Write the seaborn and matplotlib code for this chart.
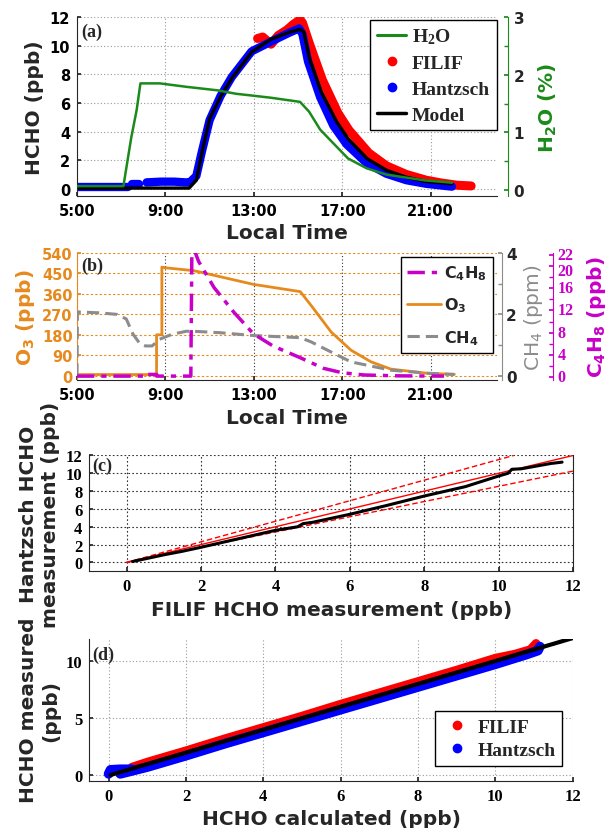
import numpy as np
import pandas as pd
import matplotlib
matplotlib.use("Agg")
import matplotlib.pyplot as plt
import seaborn as sns
from matplotlib.lines import Line2D
from matplotlib.ticker import MultipleLocator
from matplotlib.transforms import blended_transform_factory, ScaledTranslation

sns.set_theme(style="ticks")
plt.rcParams["font.family"] = ["DejaVu Sans"]
plt.rcParams["font.weight"] = "bold"
plt.rcParams["mathtext.default"] = "regular"
plt.rcParams["axes.linewidth"] = 0.8

GREEN = "#1a8a1a"
ORANGE = "#e68a1e"
GREY = "#8c8c8c"
MAGENTA = "#c800c8"
RED = "#ff0000"
BLUE = "#0000ff"
SERIF = "Liberation Serif"

# ---- (a) time series, hours of local time ----
t_h2o = [5.0, 7.1, 7.45, 7.7, 7.87, 8.75, 9.96, 11.35, 12.2, 12.9, 13.8, 15.09,
         15.5, 16.0, 16.4, 17.26, 18.1, 19.0, 20.74, 21.96]
h2o = [0.07, 0.07, 0.9, 1.39, 1.85, 1.85, 1.79, 1.73, 1.67, 1.64, 1.6, 1.53,
       1.36, 1.05, 0.89, 0.55, 0.38, 0.27, 0.17, 0.13]

t_model = [5.0, 10.07, 10.4, 10.65, 11.0, 11.52, 12.04, 12.9, 13.78, 14.65, 15.09,
           15.26, 15.52, 16.04, 16.74, 17.26, 18.13, 19.0, 19.87, 20.74, 21.96]
model = [0.05, 0.05, 0.6, 2.5, 4.9, 6.5, 7.8, 9.55, 10.45, 10.96, 11.14,
         10.95, 9.1, 6.8, 4.7, 3.5, 2.1, 1.3, 0.82, 0.52, 0.35]

t_hz = [5.0, 7.3, 7.5, 7.8, 8.15, 8.8, 9.4, 9.9, 10.1, 10.4, 10.65, 11.0, 11.5, 12.0,
        12.9, 13.8, 14.6, 15.05, 15.2, 15.45, 16.0, 16.6, 17.2, 18.1, 19.0, 19.9,
        20.8, 21.96]
hz = [0.1, 0.1, 0.35, 0.35, 0.45, 0.5, 0.5, 0.45, 0.45, 0.9, 2.6, 4.8, 6.5, 7.8,
      9.6, 10.3, 10.9, 11.2, 10.8, 8.9, 6.4, 4.4, 3.1, 1.8, 1.05, 0.6, 0.35, 0.15]
hz_seg = [0, 0, 1, 1] + [2] * 24

t_fl = [13.17, 13.4, 13.78, 14.1, 14.5, 14.8, 15.09, 15.2, 15.5, 16.1, 16.8, 17.3,
        18.2, 19.0, 19.9, 20.8, 21.5, 22.2, 22.83]
fl = [10.5, 10.6, 10.1, 10.7, 11.1, 11.5, 11.8, 11.6, 10.2, 7.6, 5.3, 4.1,
      2.5, 1.6, 1.0, 0.6, 0.4, 0.25, 0.2]

# ---- (b) O3 / CH4 / C4H8 ----
t_o3 = [5.0, 8.6, 8.6, 8.84, 8.84, 9.0, 10.3, 12.98, 15.1, 15.6, 16.5, 17.4,
        18.3, 19.2, 20.9, 22.07]
o3 = [5, 5, 180, 180, 478, 475, 462, 402, 370, 308, 192, 112, 61, 29, 10, 6]

t_ch4 = [5.0, 5.02, 6.0, 6.8, 7.23, 7.53, 7.84, 8.1, 8.4, 8.74, 9.3, 9.95, 10.5,
         11.5, 12.98, 15.1, 15.6, 16.2, 17.4, 19.2, 20.9, 22.07]
ch4 = [0.0, 2.08, 2.05, 2.0, 1.85, 1.36, 1.05, 0.97, 0.97, 1.19, 1.35, 1.45, 1.44,
       1.4, 1.31, 1.24, 1.1, 0.88, 0.45, 0.18, 0.08, 0.04]

t_c4 = [5.0, 8.0, 8.0, 8.6, 8.6, 10.15, 10.2, 10.5, 11.2, 12.1, 12.98, 13.87,
        15.1, 16.15, 17.0, 18.0, 19.5, 21.6]
c4 = [0.2, 0.2, 0.5, 0.5, 0.2, 0.2, 24, 20.8, 16.1, 11.65, 7.8, 5.6,
      3.5, 1.6, 0.8, 0.4, 0.25, 0.2]
c4_ticks = [0, 4, 8, 12, 16, 20, 22]

time_ticks = [5, 9, 13, 17, 21]
time_labels = ["5:00", "9:00", "13:00", "17:00", "21:00"]

# ---- (c) Hantzsch vs FILIF ----
c_x = [0.16, 0.5, 1.0, 1.5, 2.0, 3.0, 4.0, 4.6, 4.74, 5.0, 6.0, 7.0, 8.0, 9.1,
       10.0, 10.25, 10.35, 10.6, 11.0, 11.4, 11.7]
c_y = [0.1, 0.4, 0.85, 1.25, 1.7, 2.65, 3.6, 4.0, 4.35, 4.5, 5.4, 6.4, 7.45, 8.5,
       9.7, 10.0, 10.45, 10.5, 10.8, 11.1, 11.25]
ref_x = [0, 12]
ref_y = [0, 12]
ref_hi_x = [0, 10.4]
ref_hi_y = [0, 12]
ref_lo_y = [0, 10.25]

# ---- (d) measured vs calculated ----
d_line_x = [0.05, 12]
d_line_y = [0.0, 12.05]
d_fl_x = [0.6, 1.0, 2.0, 3.0, 4.0, 5.0, 6.0, 7.0, 8.0, 9.0, 10.0, 10.5, 10.9, 11.05, 11.12]
d_fl_y = [0.7, 1.15, 2.15, 3.2, 4.2, 5.2, 6.25, 7.25, 8.25, 9.25, 10.3, 10.65, 11.05, 11.6, 11.3]
d_hz_x = [0.0, 0.05, 0.3, 0.6, 0.3, 1.0, 2.0, 3.0, 4.0, 5.0, 6.0, 7.0, 8.0, 9.0, 10.0,
          10.8, 11.1, 11.15]
d_hz_y = [0.1, 0.45, 0.5, 0.5, 0.1, 0.7, 1.7, 2.75, 3.75, 4.75, 5.75, 6.75, 7.75,
          8.75, 9.75, 10.6, 10.95, 11.3]
d_hz_seg = [0, 0, 0, 0] + [1] * 14


def serif_ticks(ax, axis, ticks, labels=None, color="black", size=12):
    labels = labels if labels is not None else [str(t) for t in ticks]
    kw = dict(fontfamily=SERIF, fontweight="bold", fontsize=size, color=color)
    if axis == "x":
        ax.set_xticks(ticks, labels, **kw)
    else:
        ax.set_yticks(ticks, labels, **kw)


def sans_ticks(ax, axis, ticks, labels=None, color="black", size=10.5):
    labels = labels if labels is not None else [str(t) for t in ticks]
    kw = dict(fontsize=size, fontweight="bold", color=color)
    if axis == "x":
        ax.set_xticks(ticks, labels, **kw)
    else:
        ax.set_yticks(ticks, labels, **kw)


def hide(ax, *names):
    for n in names:
        ax.spines[n].set_visible(False)


LAB = dict(fontsize=14.5, fontweight="bold")
fig = plt.figure(figsize=(6.09, 8.29), dpi=100)
ax_a = fig.add_axes([0.1264, 0.7624, 0.6897, 0.2159])
ax_b = fig.add_axes([0.1264, 0.5404, 0.6897, 0.1532])
ax_c = fig.add_axes([0.1466, 0.3096, 0.7947, 0.1398])
ax_d = fig.add_axes([0.1466, 0.0571, 0.7939, 0.1713])

# ======================= (a) =======================
df_hz = pd.DataFrame({"t": t_hz, "v": hz, "seg": hz_seg})
sns.lineplot(x=t_fl, y=fl, ax=ax_a, color=RED, lw=6.5, solid_capstyle="round",
             estimator=None, sort=False)
sns.lineplot(data=df_hz, x="t", y="v", units="seg", estimator=None, sort=False,
             ax=ax_a, color=BLUE, lw=6, solid_capstyle="round")
sns.lineplot(x=t_model, y=model, ax=ax_a, color="black", lw=2.4,
             estimator=None, sort=False)
ax_a.set_xlim(5, 24)
ax_a.set_ylim(-0.5, 12)
sans_ticks(ax_a, "x", time_ticks, time_labels)
sans_ticks(ax_a, "y", list(range(0, 13, 2)))
ax_a.grid(True, color="#999999", ls=(0, (1, 2)), lw=0.8)
ax_a.set_xlabel("Local Time", **LAB)
ax_a.set_ylabel("HCHO (ppb)", **LAB)
hide(ax_a, "top", "right")
ax_a.tick_params(direction="in", length=3, pad=5)
ax_a.text(0.01, 0.97, "(a)", transform=ax_a.transAxes, va="top", ha="left",
          fontfamily=SERIF, fontweight="bold", fontsize=13)

ax_a2 = ax_a.twinx()
sns.lineplot(x=t_h2o, y=h2o, ax=ax_a2, color=GREEN, lw=1.8, estimator=None, sort=False)
ax_a2.set_ylim(-0.1, 3.0)
serif_ticks(ax_a2, "y", [0, 1, 2, 3], color=GREEN)
ax_a2.yaxis.set_minor_locator(MultipleLocator(0.5))
ax_a2.tick_params(axis="y", which="both", direction="in", length=3, color=GREEN, pad=4)
ax_a2.set_ylabel("H$_2$O (%)", color=GREEN, **LAB)
ax_a2.yaxis.set_label_coords(1.095, 0.5)
hide(ax_a2, "top", "left", "bottom")
ax_a2.spines["right"].set_color(GREEN)
ax_a2.spines["right"].set_position(("outward", 8))

h_a = [Line2D([], [], color=GREEN, lw=2.2, label="H$_2$O"),
       Line2D([], [], color=RED, marker="o", ls="none", ms=6, label="FILIF"),
       Line2D([], [], color=BLUE, marker="o", ls="none", ms=6, label="Hantzsch"),
       Line2D([], [], color="black", lw=2.5, label="Model")]
leg = ax_a2.legend(handles=h_a, loc="upper right", bbox_to_anchor=(1.0, 0.985),
                   borderaxespad=0, frameon=True, fancybox=False, edgecolor="black",
                   framealpha=1, prop=dict(family=SERIF, weight="bold", size=14),
                   handlelength=1.5, handletextpad=0.3, labelspacing=0.42, borderpad=0.35)
leg.get_frame().set_linewidth(1.0)

# ======================= (b) =======================
sns.lineplot(x=t_o3, y=o3, ax=ax_b, color=ORANGE, lw=2, estimator=None, sort=False)
ax_b.set_xlim(5, 24)
ax_b.set_ylim(-19, 540)
sans_ticks(ax_b, "x", time_ticks, time_labels)
sans_ticks(ax_b, "y", list(range(0, 541, 90)), color=ORANGE)
ax_b.yaxis.grid(True, color=ORANGE, ls=(0, (2, 2)), lw=0.8)
ax_b.xaxis.grid(True, color="#333333", ls=(0, (1, 2)), lw=0.8)
ax_b.set_xlabel("Local Time", **LAB)
ax_b.set_ylabel("O$_3$ (ppb)", color=ORANGE, **LAB)
hide(ax_b, "top", "right")
ax_b.spines["left"].set_color(ORANGE)
ax_b.tick_params(direction="in", length=3, pad=5)
ax_b.tick_params(axis="y", color=ORANGE, pad=3)
ax_b.text(0.01, 0.97, "(b)", transform=ax_b.transAxes, va="top", ha="left",
          fontfamily=SERIF, fontweight="bold", fontsize=13)

ax_b1 = ax_b.twinx()
sns.lineplot(x=t_ch4, y=ch4, ax=ax_b1, color=GREY, lw=2.2, linestyle=(0, (4, 2)),
             estimator=None, sort=False)
ax_b1.set_ylim(-0.14, 4.0)
serif_ticks(ax_b1, "y", [0, 2, 4], color="#555555")
ax_b1.yaxis.set_minor_locator(MultipleLocator(1))
ax_b1.tick_params(axis="y", which="both", direction="in", length=3, color=GREY, pad=3)
ax_b1.set_ylabel("CH$_4$ (ppm)", color=GREY, fontsize=14.5, fontweight="normal")
hide(ax_b1, "top", "left", "bottom")
ax_b1.spines["right"].set_color(GREY)
ax_b1.spines["right"].set_position(("outward", 3.5))

ax_b2 = ax_b.twinx()
sns.lineplot(x=t_c4, y=c4, ax=ax_b2, color=MAGENTA, lw=2.5,
             linestyle=(0, (5, 2, 1.5, 2)), estimator=None, sort=False)
ax_b2.set_ylim(-0.5, 22.3)
ax_b2.set_yticks(c4_ticks, [""] * len(c4_ticks))
ax_b2.yaxis.set_minor_locator(MultipleLocator(2))
ax_b2.tick_params(axis="y", which="both", direction="in", length=3, color=MAGENTA)
# tick labels written by hand so that "20" can sit a bit lower than "22"
base = blended_transform_factory(ax_b2.transAxes, ax_b2.transData)
for v in c4_ticks:
    dy = -3.8 / 72 if v == 20 else 0
    tr = base + ScaledTranslation(43.5 / 72, dy, fig.dpi_scale_trans)
    ax_b2.text(1.0, v, str(v), transform=tr, ha="left", va="center", color=MAGENTA,
               fontfamily=SERIF, fontweight="bold", fontsize=11.5, clip_on=False)
ax_b2.set_ylabel("C$_4$H$_8$ (ppb)", color=MAGENTA, **LAB)
ax_b2.yaxis.set_label_coords(1.21, 0.5)
hide(ax_b2, "top", "left", "bottom")
ax_b2.spines["right"].set_color(MAGENTA)
ax_b2.spines["right"].set_position(("outward", 40))

h_b = [Line2D([], [], color=MAGENTA, lw=2.5, ls=(0, (5, 2, 1.5, 2)), label="C$_4$H$_8$"),
       Line2D([], [], color=ORANGE, lw=2, label="O$_3$"),
       Line2D([], [], color=GREY, lw=2.2, ls=(0, (4, 2)), label="CH$_4$")]
leg = ax_b2.legend(handles=h_b, loc="upper right", bbox_to_anchor=(0.991, 0.969),
                   borderaxespad=0, frameon=True, fancybox=False, edgecolor="black",
                   framealpha=1, prop=dict(weight="bold", size=11.5),
                   handlelength=2.1, handletextpad=0.2, labelspacing=0.85, borderpad=0.4)
leg.get_frame().set_linewidth(1.0)

# ======================= (c) =======================
sns.lineplot(x=ref_x, y=ref_y, ax=ax_c, color=RED, lw=1.0, estimator=None)
sns.lineplot(x=ref_hi_x, y=ref_hi_y, ax=ax_c, color=RED, lw=1.0, ls=(0, (4, 2)),
             estimator=None)
sns.lineplot(x=ref_x, y=ref_lo_y, ax=ax_c, color=RED, lw=1.0, ls=(0, (4, 2)),
             estimator=None)
sns.lineplot(x=c_x, y=c_y, ax=ax_c, color="black", lw=2.2, estimator=None, sort=False)
ax_c.set_xlim(-1, 12)
ax_c.set_ylim(-1, 12)
serif_ticks(ax_c, "x", list(range(0, 13, 2)))
serif_ticks(ax_c, "y", list(range(0, 13, 2)))
ax_c.grid(True, color="#333333", ls=(0, (1.5, 2)), lw=0.8)
ax_c.set_xlabel("FILIF HCHO measurement (ppb)", **LAB)
ax_c.set_ylabel("Hantzsch HCHO\nmeasurement (ppb)", **LAB)
hide(ax_c, "top")
ax_c.tick_params(direction="in", length=3, pad=5)
ax_c.text(0.006, 0.99, "(c)", transform=ax_c.transAxes, va="top", ha="left",
          fontfamily=SERIF, fontweight="bold", fontsize=13)

# ======================= (d) =======================
df_dhz = pd.DataFrame({"x": d_hz_x, "y": d_hz_y, "seg": d_hz_seg})
sns.lineplot(x=d_fl_x, y=d_fl_y, ax=ax_d, color=RED, lw=6, solid_capstyle="round",
             estimator=None, sort=False)
sns.lineplot(data=df_dhz, x="x", y="y", units="seg", estimator=None, sort=False,
             ax=ax_d, color=BLUE, lw=7, solid_capstyle="round")
sns.lineplot(x=d_line_x, y=d_line_y, ax=ax_d, color="black", lw=3, estimator=None)
ax_d.set_xlim(-0.5, 12)
ax_d.set_ylim(-0.5, 12)
serif_ticks(ax_d, "x", list(range(0, 13, 2)))
serif_ticks(ax_d, "y", [0, 5, 10])
ax_d.grid(True, color="#999999", ls=(0, (1, 2)), lw=0.8)
ax_d.set_xlabel("HCHO calculated (ppb)", **LAB)
ax_d.set_ylabel("HCHO measured\n(ppb)", **LAB)
hide(ax_d, "top", "right")
ax_d.tick_params(direction="in", length=3, pad=5)
ax_d.text(0.006, 0.95, "(d)", transform=ax_d.transAxes, va="top", ha="left",
          fontfamily=SERIF, fontweight="bold", fontsize=13)
h_d = [Line2D([], [], color=RED, marker="o", ls="none", ms=6, label="FILIF"),
       Line2D([], [], color=BLUE, marker="o", ls="none", ms=6, label="Hantzsch")]
leg = ax_d.legend(handles=h_d, loc="lower right", bbox_to_anchor=(0.978, 0.104),
                  borderaxespad=0, frameon=True, fancybox=False, edgecolor="black",
                  framealpha=1, prop=dict(family=SERIF, weight="bold", size=14),
                  handlelength=1.5, handletextpad=0.3, labelspacing=0.3, borderpad=0.35)
leg.get_frame().set_linewidth(1.0)

fig.savefig("out.png", dpi=100)
